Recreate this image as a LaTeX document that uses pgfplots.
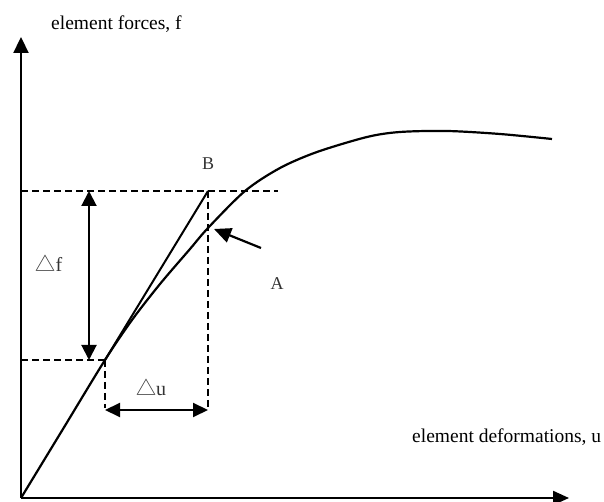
\documentclass[border=0pt]{standalone}
\usepackage{pgfplots}
\pgfplotsset{compat=1.18}
\usepackage{fontspec}
\setmainfont{Liberation Serif}
\newfontfamily\cjk{Noto Sans CJK SC}
\usetikzlibrary{arrows.meta}
\begin{document}
\begin{tikzpicture}
\useasboundingbox (0,0) rectangle (604pt,502pt);
\begin{axis}[
  at={(0,0)}, anchor=south west,
  scale only axis, width=604pt, height=502pt,
  xmin=0, xmax=604, ymin=0, ymax=502,
  hide axis, clip=false,
]
% axes
\addplot[black, line width=2.2pt, -{Triangle[length=16pt,width=15pt]}] coordinates {(21,4) (21,465)};
\addplot[black, line width=2.2pt, -{Triangle[length=16pt,width=14pt]}] coordinates {(21,4) (569,4)};
% curve
\addplot[black, line width=2.2pt, smooth] coordinates {
(21,4) (63,73) (105,142) (132,182) (160,218) (190,253) (208,274) (245,311) (280,334) (317,350) (367,365) (400,370) (447,371) (500,368) (552,363)};
% tangent
\addplot[black, line width=2pt] coordinates {(105,142) (208,311)};
% dashed lines
\addplot[black, line width=2pt, dash pattern=on 7pt off 4pt] coordinates {(21,311) (278,311)};
\addplot[black, line width=2pt, dash pattern=on 7pt off 4pt] coordinates {(21,142) (105,142)};
\addplot[black, line width=2pt, dash pattern=on 7pt off 4pt] coordinates {(208,311) (208,94)};
\addplot[black, line width=2pt, dash pattern=on 7pt off 4pt] coordinates {(105,142) (105,94)};
% delta arrows
\addplot[black, line width=2pt, {Triangle[length=15pt,width=15pt]}-{Triangle[length=15pt,width=15pt]}] coordinates {(89,311) (89,142)};
\addplot[black, line width=2pt, {Triangle[length=15pt,width=14pt]}-{Triangle[length=15pt,width=14pt]}] coordinates {(105,92) (208,92)};
% pointer to A
\addplot[black, line width=2.2pt, -{Triangle[length=17pt,width=15pt]}] coordinates {(261,254) (214,273)};
% labels
\node[anchor=base west, font=\fontsize{19.5}{22}\selectfont, inner sep=0pt] at (axis cs:51,472) {element forces, f};
\node[anchor=base west, font=\fontsize{19.5}{22}\selectfont, inner sep=0pt] at (axis cs:412,59) {element deformations, u};
\node[font=\fontsize{18}{20}\selectfont, text=black!80] at (axis cs:208,338) {B};
\node[font=\fontsize{18}{20}\selectfont, text=black!80] at (axis cs:277,218) {A};
\node[font=\fontsize{20}{22}\selectfont, text=black!80] at (axis cs:49,239) {{\cjk △}f};
\node[font=\fontsize{20}{22}\selectfont, text=black!80] at (axis cs:151,115) {{\cjk △}u};
\end{axis}
\end{tikzpicture}
\end{document}
